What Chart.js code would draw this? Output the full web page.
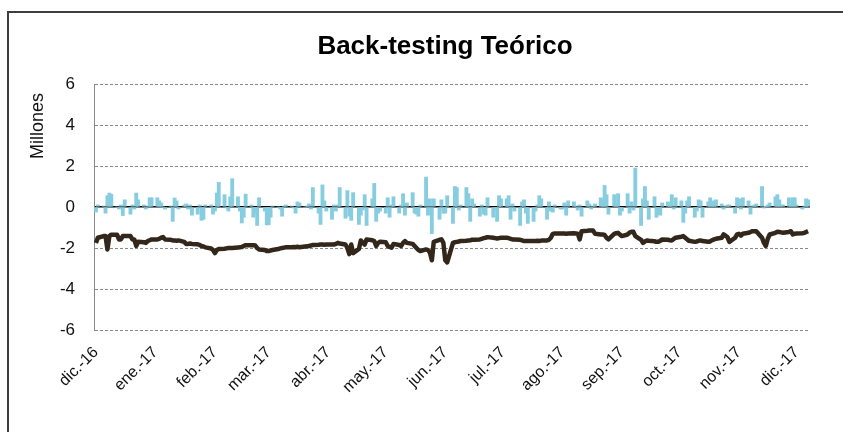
<!DOCTYPE html>
<html>
<head>
<meta charset="utf-8">
<script src="https://cdn.jsdelivr.net/npm/chart.js@4.4.0/dist/chart.umd.min.js"></script>
<style>
  html, body { margin: 0; padding: 0; background: #fff; overflow: hidden; }
  #grafico { position: absolute; left: 0; top: 0; }
</style>
</head>
<body>
<canvas id="grafico" width="843" height="432"></canvas>
<script>
// Etiquetas de meses (eje x)
const monthLabels = ['dic.-16', 'ene.-17', 'feb.-17', 'mar.-17', 'abr.-17', 'may.-17', 'jun.-17',
                     'jul.-17', 'ago.-17', 'sep.-17', 'oct.-17', 'nov.-17', 'dic.-17'];

// Resultado diario (millones) - barras
const barValues = [
  -0.25, 0.1, 0.05, -0.3, 0.55, 0.68, 0.62, 0.0, -0.1, 0.1, -0.42, 0.35, -0.35, 0.1, -0.1, 0.68, 0.35, 0.1, -0.1, 0.05, 0.45, 0.45,     // dic
  0.45, 0.3, 0.2, 0.0, -0.1, 0.05, -0.7, 0.44, 0.3, -0.1, 0.1, 0.15, -0.1, 0.1, -0.4, -0.35, 0.1, -0.65, -0.6, 0.1, 0.1, -0.35,         // ene
  -0.2, 0.68, 1.2, 0.6, -0.05, -0.2, 0.5, 1.38, 0.5, -0.2, -0.78, -0.5, 0.63, 0.1, -0.5, -0.3, -0.9, 0.45, -0.2, -0.88,                 // feb
  -0.86, -0.5, 0.05, 0.0, -0.1, -0.45, 0.05, 0.1, 0.05, -0.05, -0.3, 0.25, 0.2, 0.0, 0.05, 0.15, -0.1, 0.95, -0.3, -0.85, 1.08, 0.3, -0.2, // mar
  -0.6, 0.1, -0.2, 0.1, 0.95, -0.55, 0.8, -0.45, -0.65, 0.7, -0.85, -0.4, -0.15, 0.6, -0.9, 0.4, 1.15, -0.7, -0.3, -0.2,                // abr
  -0.3, 0.45, -0.5, 0.1, 0.5, -0.3, 0.1, 0.65, -0.4, 0.2, 0.7, -0.3, -0.35, -0.45, 0.1, 1.46, -0.4, 0.4, -1.3, 0.4, -0.6, 0.35, -0.3,   // may
  -0.3, 0.55, -0.8, 1.0, 0.95, -0.15, 0.1, 0.95, 0.65, -0.7, 0.4, 0.15, -0.45, 0.1, -0.35, -0.4, 0.45, -0.5, -0.1, -0.7, 0.55, 0.4,     // jun
  0.4, 0.55, -0.6, 0.15, -0.2, -0.9, 0.25, 0.35, -0.3, -0.8, -0.7, -0.2, 0.1, 0.55, 0.4, -0.6, 0.25, -0.2, -0.25, 0.1, -0.1,            // jul
  -0.1, 0.2, -0.4, 0.3, 0.25, 0.05, -0.15, 0.1, -0.45, 0.3, 0.15, -0.1, 0.05, 0.15, 0.45, 0.35, 1.05, 0.6, -0.35, 0.6, 0.1, 0.65, -0.4, // ago
  -0.2, 0.65, -0.3, 0.25, -0.15, 1.9, -0.9, 0.4, 1.0, 0.3, -0.6, 0.5, -0.5, -0.35, -0.4, 0.2, 0.25, 0.1, 0.6, -0.1, 0.45,               // sep
  0.3, -0.75, -0.3, 0.3, 0.5, -0.5, -0.2, 0.35, 0.3, -0.5, 0.25, 0.45, 0.3, 0.1, 0.35, 0.15, -0.1, 0.05, 0.1, 0.1, -0.3, 0.45,          // oct
  0.4, -0.1, 0.45, 0.3, -0.35, 0.05, 0.1, 0.15, 1.0, -0.05, 0.02, 0.1, 0.2, 0.5, 0.6, 0.35, 0.1, 0.1, 0.45, 0.05, 0.45, 0.45,           // nov
  0.1, -0.1, 0.05, 0.4, 0.35                                                                                                         // dic
];

// VaR teórico (millones) - línea
const lineValues = [
  -1.75, -1.5, -1.42, -1.42, -2.07, -1.42, -1.35, -1.35, -1.58, -1.58, -1.42, -1.42, -1.42, -1.58, -1.58, -1.9, -1.7, -1.72, -1.75, -1.66, -1.62, -1.58,
  -1.58, -1.55, -1.5, -1.47, -1.58, -1.6, -1.63, -1.63, -1.65, -1.63, -1.7, -1.8, -1.8, -1.78, -1.8, -1.82, -1.85, -1.9, -1.92, -1.97, -2.02, -2.1,
  -2.25, -2.1, -2.05, -2.04, -2.02, -2.0, -2.0, -2.0, -1.98, -1.96, -1.95, -1.9, -1.86, -1.86, -1.86, -1.88, -2.0, -2.07, -2.1, -2.15,
  -2.15, -2.12, -2.1, -2.05, -2.02, -2.0, -1.98, -1.96, -1.96, -1.95, -1.96, -1.94, -1.96, -1.93, -1.92, -1.9, -1.88, -1.85, -1.84, -1.83, -1.83, -1.84, -1.83,
  -1.83, -1.83, -1.8, -1.75, -1.78, -1.83, -2.0, -2.3, -1.83, -2.25, -2.05, -1.63, -1.75, -1.83, -1.58, -1.62, -1.66, -1.9, -1.75, -1.7,
  -1.72, -1.9, -1.95, -1.99, -1.8, -1.85, -1.9, -1.75, -1.66, -1.75, -1.8, -1.9, -2.0, -2.1, -2.15, -2.07, -2.1, -2.23, -2.6, -1.7, -1.6, -1.58, -1.75,
  -2.6, -2.7, -1.75, -1.72, -1.7, -1.68, -1.66, -1.65, -1.63, -1.62, -1.6, -1.6, -1.58, -1.55, -1.52, -1.5, -1.47, -1.5, -1.52, -1.54, -1.52, -1.5,
  -1.5, -1.52, -1.55, -1.58, -1.58, -1.6, -1.63, -1.66, -1.66, -1.66, -1.66, -1.66, -1.65, -1.66, -1.64, -1.63, -1.6, -1.5, -1.31, -1.29, -1.29,
  -1.29, -1.29, -1.3, -1.29, -1.28, -1.29, -1.3, -1.58, -1.18, -1.16, -1.15, -1.15, -1.15, -1.3, -1.34, -1.34, -1.36, -1.5, -1.58, -1.31, -1.28, -1.26, -1.35,
  -1.42, -1.34, -1.25, -1.21, -1.21, -1.42, -1.6, -1.75, -1.68, -1.63, -1.65, -1.67, -1.7, -1.7, -1.65, -1.58, -1.6, -1.62, -1.63, -1.56, -1.5,
  -1.45, -1.42, -1.5, -1.58, -1.65, -1.7, -1.68, -1.65, -1.63, -1.66, -1.7, -1.68, -1.62, -1.58, -1.55, -1.5, -1.34, -1.4, -1.47, -1.7, -1.5, -1.34,
  -1.31, -1.4, -1.3, -1.26, -1.22, -1.18, -1.18, -1.18, -1.5, -1.75, -1.9, -1.55, -1.34, -1.26, -1.21, -1.22, -1.24, -1.26, -1.22, -1.18, -1.34, -1.3,
  -1.29, -1.28, -1.26, -1.22, -1.18
];

// días hábiles desde el 1 de diciembre de 2016
const DIA = 86400000;
const inicio = Date.UTC(2016, 11, 1);
const dias = [];
for (let t = inicio; dias.length < barValues.length; t += DIA) {
    const d = new Date(t).getUTCDay();
    if (d !== 0 && d !== 6) dias.push((t - inicio) / DIA);
}
const inicioMeses = monthLabels.map((_, i) => (Date.UTC(2016, 11 + i, 1) - inicio) / DIA);

// marco exterior, título y título del eje y, colocados como en el original
const adornos = {
    id: 'adornos',
    beforeDraw(chart) {
        const c = chart.ctx;
        c.save();
        c.fillStyle = '#fff';
        c.fillRect(0, 0, chart.width, chart.height);
        c.strokeStyle = '#3d3d3d';
        c.lineWidth = 2;
        c.strokeRect(8, 12, chart.width + 20, chart.height + 20);
        c.restore();
    },
    afterDraw(chart) {
        const c = chart.ctx;
        c.save();
        c.fillStyle = '#000';
        c.textAlign = 'center';
        c.textBaseline = 'middle';
        c.font = 'bold 26px "Liberation Sans", Arial, sans-serif';
        c.fillText('Back-testing Teórico', 445, 46.5);

        c.fillStyle = '#111';
        c.translate(38, 126);
        c.rotate(-Math.PI / 2);
        c.font = '18px "Liberation Sans", Arial, sans-serif';
        c.fillText('Millones', 0, 0);
        c.restore();
    }
};

Chart.defaults.font.family = '"Liberation Sans", Arial, sans-serif';

const ctx = document.getElementById('grafico').getContext('2d');
const grafico = new Chart(ctx, {
    type: 'bar',
    data: {
        datasets: [
            {
                type: 'line',
                label: 'VaR',
                data: dias.map((x, i) => ({ x: x, y: lineValues[i] })),
                borderColor: '#33261b',
                borderWidth: 4.5,
                pointRadius: 0,
                tension: 0,
                borderJoinStyle: 'round',
                order: 0
            },
            {
                type: 'bar',
                label: 'Resultado',
                data: dias.map((x, i) => ({ x: x, y: barValues[i] })),
                backgroundColor: '#87cde0',
                borderWidth: 0,
                barThickness: 3.2,
                order: 1
            }
        ]
    },
    options: {
        responsive: false,
        animation: false,
        layout: { padding: { left: 46, right: 33, top: 84, bottom: 0 } },
        plugins: {
            legend: { display: false },
            tooltip: { enabled: false },
            title: { display: false }
        },
        scales: {
            x: {
                type: 'linear',
                min: -1,
                max: 372,
                offset: false,
                grid: { display: false },
                border: { display: false },
                afterBuildTicks: s => { s.ticks = inicioMeses.map(v => ({ value: v })); },
                afterFit: s => { s.height = 102; },
                ticks: {
                    autoSkip: false,
                    minRotation: 45,
                    maxRotation: 45,
                    padding: 5,
                    color: '#111',
                    font: { size: 16 },
                    callback: (v, i) => monthLabels[i]
                }
            },
            y: {
                min: -6,
                max: 6,
                afterFit: s => { s.width = 48; },
                ticks: { stepSize: 2, padding: 19, color: '#111', font: { size: 17 } },
                grid: {
                    drawTicks: false,
                    color: c => (c.tick && c.tick.value === 0) ? '#000' : '#8a8a8a',
                    lineWidth: c => (c.tick && c.tick.value === 0) ? 1.5 : 1
                },
                border: {
                    color: '#8a8a8a',
                    dash: c => (c.tick && c.tick.value === 0) ? [] : [3, 2]
                }
            }
        }
    },
    plugins: [adornos]
});
</script>
</body>
</html>
